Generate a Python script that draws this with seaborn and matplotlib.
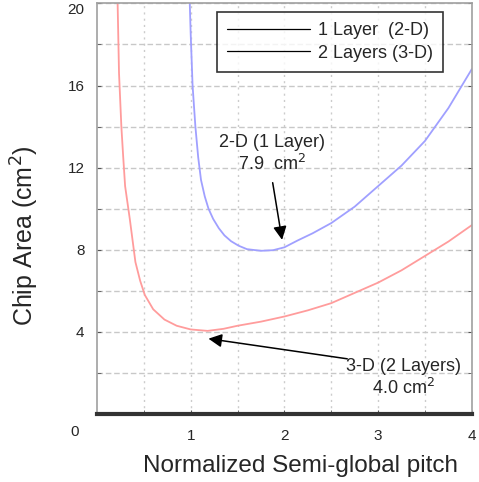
import matplotlib
matplotlib.use("Agg")
import matplotlib.pyplot as plt
from matplotlib.lines import Line2D
import pandas as pd
import seaborn as sns

# 1 layer (2-D) curve
pitch_2d = [0.99, 1.0, 1.02, 1.05, 1.08, 1.11, 1.15, 1.19, 1.24, 1.3, 1.36, 1.43,
            1.51, 1.6, 1.75, 1.88, 2.0, 2.14, 2.3, 2.5, 2.75, 3.0, 3.25, 3.5, 3.75, 4.0]
area_2d = [20.0, 18.5, 16.0, 14.0, 12.5, 11.4, 10.6, 10.0, 9.5, 9.05, 8.7, 8.42,
           8.2, 8.03, 7.95, 7.98, 8.12, 8.45, 8.8, 9.3, 10.1, 11.1, 12.1, 13.3, 14.9, 16.8]

# 2 layers (3-D) curve
pitch_3d = [0.22, 0.235, 0.26, 0.28, 0.3, 0.35, 0.41, 0.46, 0.51, 0.6, 0.72, 0.85,
            1.0, 1.18, 1.35, 1.5, 1.75, 2.0, 2.25, 2.5, 2.75, 3.0, 3.25, 3.5, 3.75, 4.0]
area_3d = [20.0, 16.6, 14.0, 12.5, 11.1, 9.5, 7.4, 6.5, 5.8, 5.1, 4.6, 4.3,
           4.12, 4.05, 4.15, 4.3, 4.5, 4.75, 5.05, 5.4, 5.9, 6.4, 7.0, 7.7, 8.4, 9.2]

series_names = ["1 Layer  (2-D)", "2 Layers (3-D)"]
x_ticks = [1, 2, 3, 4]
y_ticks = [4, 8, 12, 16, 20]

df = pd.concat([
    pd.DataFrame({"pitch": pitch_2d, "area": area_2d, "layers": series_names[0]}),
    pd.DataFrame({"pitch": pitch_3d, "area": area_3d, "layers": series_names[1]}),
])

sns.set_style("white")
plt.rcParams["font.family"] = ["Liberation Sans", "DejaVu Sans"]

fig = plt.figure(figsize=(4.79, 4.82), dpi=100)
ax = fig.add_axes([0.2025, 0.141, 0.7825, 0.852])

sns.lineplot(data=df, x="pitch", y="area", hue="layers", estimator=None,
             palette={series_names[0]: "#a0a0ff", series_names[1]: "#ff9c9c"},
             linewidth=1.3, legend=False, ax=ax)

ax.set_xlim(0, 4)
ax.set_ylim(0, 20)
ax.set_xticks(x_ticks)
ax.set_yticks(y_ticks)
ax.set_xticks([0.5, 1.5, 2.5, 3.5], minor=True)
ax.set_yticks([2, 6, 10, 14, 18], minor=True)
ax.grid(True, which="both", axis="y", color="#c8c8c8", linestyle=(0, (4, 2)), linewidth=1)
ax.grid(True, which="both", axis="x", color="#cccccc", linestyle=(0, (1.5, 3)), linewidth=1)
ax.tick_params(axis="both", which="both", direction="in", length=3, color="#555555",
               labelsize=11)
ax.tick_params(axis="y", which="both", left=True, right=True, pad=9)
ax.tick_params(axis="x", which="both", bottom=True, pad=11)
ax.get_yticklabels()[-1].set_verticalalignment("top")

for side in ["top", "right", "left"]:
    ax.spines[side].set_color("#a0a0a0")
    ax.spines[side].set_linewidth(1.2)
ax.spines["bottom"].set_color("#333333")
ax.spines["bottom"].set_linewidth(3)

ax.text(-0.059, -0.044, "0", transform=ax.transAxes, ha="center", va="center", fontsize=11)

ax.set_xlabel("Normalized Semi-global pitch", fontsize=17.5)
ax.set_ylabel("Chip Area (cm$^2$)", fontsize=18)
ax.xaxis.set_label_coords(0.543, -0.100)
ax.yaxis.set_label_coords(-0.150, 0.435)

handles = [Line2D([], [], color="black", linewidth=0.9) for _ in series_names]
leg = ax.legend(handles, series_names, loc="upper right", bbox_to_anchor=(0.923, 0.978),
                borderaxespad=0, fontsize=13, handlelength=4.6, handletextpad=0.45,
                frameon=True, fancybox=False, borderpad=0.55, labelspacing=0.3)
leg.get_frame().set_edgecolor("black")
leg.get_frame().set_linewidth(1.2)

ax.text(1.87, 12.67, "2-D (1 Layer)\n7.9  cm$^2$", ha="center", va="center",
        fontsize=13, linespacing=1.2)
ax.annotate("", xy=(1.98, 8.35), xytext=(1.87, 11.4),
            arrowprops=dict(arrowstyle="-|>", color="black", lw=1.1, mutation_scale=20))

ax.text(3.27, 1.75, "3-D (2 Layers)\n4.0 cm$^2$", ha="center", va="center",
        fontsize=13, linespacing=1.2)
ax.annotate("", xy=(1.16, 3.69), xytext=(2.7, 2.67),
            arrowprops=dict(arrowstyle="-|>", color="black", lw=1.1, mutation_scale=20))

fig.savefig("out.png", dpi=100)
